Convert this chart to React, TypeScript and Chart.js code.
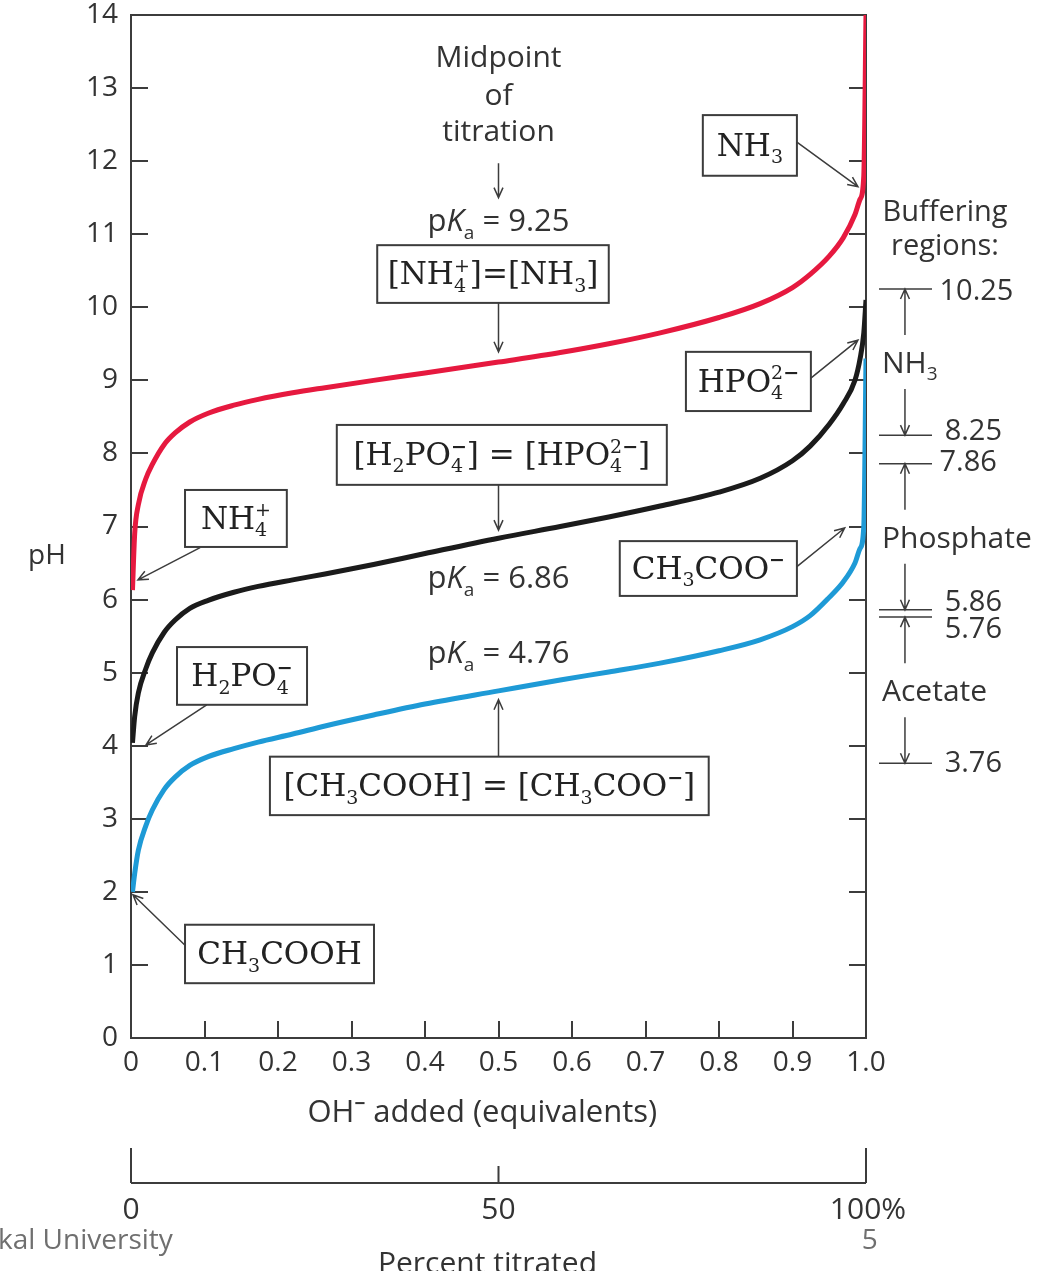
import React, { useEffect, useRef } from 'react';
import { Chart, registerables } from 'chart.js';

Chart.register(...registerables);

// ---------- data ----------
const EQUIV = [0.002, 0.005, 0.01, 0.02, 0.029, 0.045, 0.06, 0.08, 0.105, 0.14, 0.173, 0.22, 0.264, 0.33, 0.4, 0.5, 0.584, 0.65, 0.72, 0.8, 0.856, 0.9, 0.924, 0.95, 0.969, 0.985, 0.992, 0.997, 1.0];
const AMMONIUM_PH = [6.13, 6.9, 7.3, 7.65, 7.85, 8.12, 8.28, 8.43, 8.55, 8.66, 8.74, 8.83, 8.9, 9.0, 9.1, 9.25, 9.38, 9.5, 9.65, 9.86, 10.05, 10.27, 10.45, 10.7, 10.95, 11.27, 11.48, 11.8, 14.0];
const PHOSPHATE_PH = [4.04, 4.4, 4.72, 5.05, 5.27, 5.55, 5.72, 5.88, 5.99, 6.1, 6.18, 6.27, 6.35, 6.48, 6.63, 6.84, 7.0, 7.13, 7.28, 7.47, 7.66, 7.9, 8.1, 8.4, 8.68, 9.0, 9.3, 9.65, 10.1];
const ACETATE_PH = [2.0, 2.25, 2.57, 2.9, 3.12, 3.4, 3.57, 3.73, 3.85, 3.96, 4.05, 4.16, 4.27, 4.42, 4.57, 4.75, 4.9, 5.01, 5.13, 5.3, 5.45, 5.63, 5.78, 6.03, 6.24, 6.5, 6.7, 7.0, 9.3];

const X_TICK_LABELS = ['0', '0.1', '0.2', '0.3', '0.4', '0.5', '0.6', '0.7', '0.8', '0.9', '1.0'];
const Y_TICK_LABELS = ['0', '1', '2', '3', '4', '5', '6', '7', '8', '9', '10', '11', '12', '13', '14'];
const PERCENT_TICKS = [0, 0.5, 1.0];
const PERCENT_LABELS = ['0', '50', '100%'];

const PKA_VALUES = ['9.25', '6.86', '4.76'];
const BUFFER_NAMES = ['NH3', 'Phosphate', 'Acetate'];
const BUFFER_CENTERS = [9.25, 6.86, 4.76];
const BUFFER_TOPS = [10.25, 7.86, 5.76];
const BUFFER_BOTTOMS = [8.25, 5.86, 3.76];
const BUFFER_BOUNDS = [10.25, 8.25, 7.86, 5.86, 5.76, 3.76];
const BOUND_LABELS = ['10.25', '8.25', '7.86', '5.86', '5.76', '3.76'];

// ---------- style ----------
const RED = '#e6193f';
const BLACK = '#1b1b1b';
const BLUE = '#1e9ad6';
const TEXT = '#333333';
const LINE = '#3c3c3c';
const SANS = "'Open Sans', 'Noto Sans', sans-serif";
const SERIF = "'DejaVu Serif', 'Liberation Serif', serif";

type Seg = { k: 'n' | 'it' | 'sub' | 'sup' | 'st'; t?: string; sub?: string; sup?: string };
const N = (t: string): Seg => ({ k: 'n', t });
const IT = (t: string): Seg => ({ k: 'it', t });
const SB = (t: string): Seg => ({ k: 'sub', t });
const SP = (t: string): Seg => ({ k: 'sup', t });
const ST = (sub: string, sup: string): Seg => ({ k: 'st', sub, sup });

function drawRich(ctx: CanvasRenderingContext2D, segs: Seg[], x: number, y: number, size: number, family: string, align: 'center' | 'left', color: string, boldMinus = false) {
  const small = Math.round(size * 0.62);
  const fN = `${size}px ${family}`;
  const fI = `italic ${size}px ${family}`;
  const fS = `${small}px ${family}`;
  const fSB = `bold ${small}px ${family}`;
  const supWidth = (s: string) => {
    let w = 0;
    for (const ch of s) { ctx.font = ch === '−' && boldMinus ? fSB : fS; w += ctx.measureText(ch).width; }
    return w;
  };
  const drawSup = (s: string, sx: number, sy: number) => {
    let cx2 = sx;
    for (const ch of s) {
      ctx.font = ch === '−' && boldMinus ? fSB : fS;
      ctx.fillText(ch, cx2, sy);
      cx2 += ctx.measureText(ch).width;
    }
  };
  const widths = segs.map((s) => {
    if (s.k === 'n') { ctx.font = fN; return ctx.measureText(s.t!).width; }
    if (s.k === 'it') { ctx.font = fI; return ctx.measureText(s.t!).width; }
    ctx.font = fS;
    if (s.k === 'st') { const a = ctx.measureText(s.sub!).width; return Math.max(a, supWidth(s.sup!)); }
    if (s.k === 'sup') return supWidth(s.t!);
    return ctx.measureText(s.t!).width;
  });
  const total = widths.reduce((a, b) => a + b, 0);
  let cx = align === 'center' ? x - total / 2 : x;
  const base = y + size * 0.36;
  ctx.fillStyle = color;
  ctx.textAlign = 'left';
  ctx.textBaseline = 'alphabetic';
  segs.forEach((s, i) => {
    if (s.k === 'n') { ctx.font = fN; ctx.fillText(s.t!, cx, base); }
    else if (s.k === 'it') { ctx.font = fI; ctx.fillText(s.t!, cx, base); }
    else if (s.k === 'sub') { ctx.font = fS; ctx.fillText(s.t!, cx, base + size * 0.24); }
    else if (s.k === 'sup') { drawSup(s.t!, cx, base - size * 0.4); }
    else { ctx.font = fS; ctx.fillText(s.sub!, cx, base + size * 0.24); drawSup(s.sup!, cx, base - size * 0.4); }
    cx += widths[i];
  });
  return total;
}

function arrow(ctx: CanvasRenderingContext2D, x1: number, y1: number, x2: number, y2: number) {
  const ang = Math.atan2(y2 - y1, x2 - x1);
  const h = 11;
  const spread = 0.42;
  ctx.beginPath();
  ctx.moveTo(x1, y1);
  ctx.lineTo(x2, y2);
  ctx.moveTo(x2 - h * Math.cos(ang - spread), y2 - h * Math.sin(ang - spread));
  ctx.lineTo(x2, y2);
  ctx.lineTo(x2 - h * Math.cos(ang + spread), y2 - h * Math.sin(ang + spread));
  ctx.stroke();
}

// annotation layout in data units (x = equivalents, y = pH)
type Box = { x1: number; x2: number; yT: number; yB: number; segs: Seg[]; from: [number, number]; to: [number, number] };
const BOXES: Box[] = [
  { x1: 0.778, x2: 0.906, yT: 12.63, yB: 11.8, segs: [N('NH'), SB('3')], from: [0.906, 12.26], to: [0.989, 11.65] },
  { x1: 0.335, x2: 0.65, yT: 10.85, yB: 10.06, segs: [N('[NH'), ST('4', '+'), N(']=[NH'), SB('3'), N(']')], from: [0.5, 10.06], to: [0.5, 9.39] },
  { x1: 0.755, x2: 0.925, yT: 9.39, yB: 8.58, segs: [N('HPO'), ST('4', '2−')], from: [0.925, 9.03], to: [0.989, 9.55] },
  { x1: 0.28, x2: 0.729, yT: 8.39, yB: 7.57, segs: [N('[H'), SB('2'), N('PO'), ST('4', '−'), N('] = [HPO'), ST('4', '2−'), N(']')], from: [0.5, 7.57], to: [0.5, 6.95] },
  { x1: 0.665, x2: 0.906, yT: 6.8, yB: 6.05, segs: [N('CH'), SB('3'), N('COO'), SP('−')], from: [0.906, 6.45], to: [0.971, 6.98] },
  { x1: 0.189, x2: 0.786, yT: 3.85, yB: 3.05, segs: [N('[CH'), SB('3'), N('COOH] = [CH'), SB('3'), N('COO'), SP('−'), N(']')], from: [0.5, 3.85], to: [0.5, 4.63] },
  { x1: 0.0735, x2: 0.212, yT: 7.5, yB: 6.72, segs: [N('NH'), ST('4', '+')], from: [0.094, 6.71], to: [0.0095, 6.27] },
  { x1: 0.0626, x2: 0.2395, yT: 5.35, yB: 4.56, segs: [N('H'), SB('2'), N('PO'), ST('4', '−')], from: [0.103, 4.56], to: [0.0204, 4.01] },
  { x1: 0.0735, x2: 0.3306, yT: 1.55, yB: 0.75, segs: [N('CH'), SB('3'), N('COOH')], from: [0.0735, 1.27], to: [0.0027, 1.96] },
];
const MIDPOINT_LINES = ['Midpoint', 'of', 'titration'];
const MIDPOINT_Y = [13.41, 12.89, 12.39];
const PKA_Y = [11.19, 6.31, 5.28];
const BOUND_LABEL_DY = [3, -3, -1, -7, 13, 0];

const framePlugin = {
  id: 'frame',
  beforeDatasetsDraw(chart: any) {
    const { ctx, chartArea: a, scales } = chart;
    const xs = scales.x, ys = scales.y;
    ctx.save();
    ctx.strokeStyle = LINE;
    ctx.lineWidth = 2;
    ctx.strokeRect(a.left, a.top, a.right - a.left, a.bottom - a.top);
    ctx.beginPath();
    const tl = 17;
    ys.ticks.forEach((t: any) => {
      const y = Math.round(ys.getPixelForValue(t.value));
      ctx.moveTo(a.left, y); ctx.lineTo(a.left + tl, y);
      ctx.moveTo(a.right, y); ctx.lineTo(a.right - tl, y);
    });
    xs.ticks.forEach((t: any) => {
      const x = Math.round(xs.getPixelForValue(t.value));
      ctx.moveTo(x, a.bottom); ctx.lineTo(x, a.bottom - tl);
    });
    ctx.stroke();
    ctx.restore();
  },
};

const annotationPlugin = {
  id: 'annotations',
  afterDraw(chart: any) {
    const { ctx, chartArea: a, scales } = chart;
    const xs = scales.x, ys = scales.y;
    const px = (v: number) => xs.getPixelForValue(v);
    const py = (v: number) => ys.getPixelForValue(v);
    ctx.save();
    ctx.strokeStyle = LINE;
    ctx.lineWidth = 1.5;

    // midpoint text
    ctx.fillStyle = TEXT;
    ctx.font = `30px ${SANS}`;
    ctx.textAlign = 'center';
    ctx.textBaseline = 'middle';
    MIDPOINT_LINES.forEach((t, i) => ctx.fillText(t, px(0.5), py(MIDPOINT_Y[i])));
    arrow(ctx, px(0.5), py(11.97), px(0.5), py(11.5));

    // pKa labels
    PKA_VALUES.forEach((v, i) => {
      drawRich(ctx, [N('p'), IT('K'), SB('a'), N(' = ' + v)], px(0.5), py(PKA_Y[i]), 31, SANS, 'center', TEXT);
    });

    // boxes
    BOXES.forEach((b) => {
      const l = px(b.x1), r = px(b.x2), t = py(b.yT), bt = py(b.yB);
      ctx.fillStyle = '#ffffff';
      ctx.fillRect(l, t, r - l, bt - t);
      ctx.strokeStyle = LINE;
      ctx.lineWidth = 2;
      ctx.strokeRect(l, t, r - l, bt - t);
      drawRich(ctx, b.segs, (l + r) / 2, (t + bt) / 2 - 1, 31, SERIF, 'center', '#222', true);
      ctx.lineWidth = 1.5;
      arrow(ctx, px(b.from[0]), py(b.from[1]), px(b.to[0]), py(b.to[1]));
    });

    // buffering regions (right side)
    ctx.fillStyle = TEXT;
    ctx.font = `29px ${SANS}`;
    ctx.textAlign = 'center';
    ctx.textBaseline = 'middle';
    ctx.fillText('Buffering', px(1.1075), py(11.3));
    ctx.fillText('regions:', px(1.1075), py(10.83));
    const lx1 = px(1.0177), lx2 = px(1.0898), ax = px(1.053);
    ctx.lineWidth = 1.5;
    ctx.beginPath();
    BUFFER_BOUNDS.forEach((v) => { ctx.moveTo(lx1, py(v)); ctx.lineTo(lx2, py(v)); });
    ctx.stroke();
    BUFFER_BOUNDS.forEach((v, i) => {
      ctx.fillStyle = TEXT;
      ctx.font = `29px ${SANS}`;
      ctx.textAlign = 'left';
      ctx.textBaseline = 'middle';
      ctx.fillText(BOUND_LABELS[i], px(i === 0 || i === 2 ? 1.1 : 1.107), py(v) + BOUND_LABEL_DY[i]);
    });
    BUFFER_NAMES.forEach((name, i) => {
      const cy = py(BUFFER_CENTERS[i]);
      const segs = name === 'NH3' ? [N('NH'), SB('3')] : [N(name)];
      drawRich(ctx, segs, px(1.0218), cy, 30, SANS, 'left', TEXT);
      arrow(ctx, ax, cy - 27, ax, py(BUFFER_TOPS[i]));
      arrow(ctx, ax, cy + 27, ax, py(BUFFER_BOTTOMS[i]));
    });

    // pH label and x title
    ctx.fillStyle = TEXT;
    ctx.font = `28px ${SANS}`;
    ctx.textAlign = 'center';
    ctx.textBaseline = 'middle';
    ctx.fillText('pH', 47, py(6.6));
    drawRich(ctx, [N('OH'), SP('−'), N(' added (equivalents)')], px(0.478), a.bottom + 73, 31, SANS, 'center', TEXT, true);

    // percent titrated axis
    const base = a.bottom + 145;
    ctx.strokeStyle = LINE;
    ctx.lineWidth = 2;
    ctx.beginPath();
    ctx.moveTo(px(0), base); ctx.lineTo(px(1), base);
    PERCENT_TICKS.forEach((v, i) => {
      const h = i === 1 ? 17 : 35;
      ctx.moveTo(px(v), base); ctx.lineTo(px(v), base - h);
    });
    ctx.stroke();
    ctx.fillStyle = TEXT;
    ctx.font = `30px ${SANS}`;
    ctx.textAlign = 'center';
    ctx.textBaseline = 'middle';
    PERCENT_LABELS.forEach((t, i) => ctx.fillText(t, px(PERCENT_TICKS[i]) + (i === 2 ? 2 : 0), base + 27));
    ctx.fillText('Percent titrated', px(0.485), base + 81);

    // footer
    ctx.fillStyle = '#6f6f6f';
    ctx.font = `28px ${SANS}`;
    ctx.textAlign = 'left';
    ctx.fillText('kal University', -2, base + 58);
    ctx.textAlign = 'center';
    ctx.fillText('5', px(1.005), base + 58);
    ctx.restore();
  },
};

export default function App() {
  const ref = useRef<HTMLCanvasElement | null>(null);
  useEffect(() => {
    document.body.style.margin = '0';
    const canvas = ref.current!;
    const mk = (ys: number[]) => EQUIV.map((x, i) => ({ x, y: ys[i] }));
    const ds = (label: string, ys: number[], color: string) => ({
      label,
      data: mk(ys),
      borderColor: color,
      backgroundColor: color,
      borderWidth: 5,
      pointRadius: 0,
      fill: false,
      cubicInterpolationMode: 'monotone' as const,
    });
    const tickFont = { family: SANS, size: 28, lineHeight: 1 };
    const chart = new Chart(canvas, {
      type: 'line',
      data: {
        datasets: [
          ds('NH4+', AMMONIUM_PH, RED),
          ds('H2PO4-', PHOSPHATE_PH, BLACK),
          ds('CH3COOH', ACETATE_PH, BLUE),
        ],
      },
      options: {
        animation: false,
        responsive: false,
        devicePixelRatio: 1,
        layout: { padding: { left: 0, right: 174, top: 15, bottom: 0 } },
        plugins: { legend: { display: false }, tooltip: { enabled: false } },
        scales: {
          x: {
            type: 'linear',
            min: 0,
            max: 1,
            afterFit: (s: any) => { s.height = 233; s.paddingLeft = 0; s.paddingRight = 0; },
            grid: { display: false, drawTicks: false },
            border: { display: false },
            ticks: {
              stepSize: 0.1,
              autoSkip: false,
              maxRotation: 0,
              padding: 11,
              color: TEXT,
              font: tickFont,
              callback: (_v: any, i: number) => X_TICK_LABELS[i],
            },
          },
          y: {
            type: 'linear',
            min: 0,
            max: 14,
            afterFit: (s: any) => { s.width = 131; s.paddingTop = 0; s.paddingBottom = 0; },
            grid: { display: false, drawTicks: false },
            border: { display: false },
            ticks: {
              stepSize: 1,
              autoSkip: false,
              padding: 13,
              color: TEXT,
              font: tickFont,
              callback: (_v: any, i: number) => Y_TICK_LABELS[i],
            },
          },
        },
      },
      plugins: [framePlugin, annotationPlugin],
    });
    return () => chart.destroy();
  }, []);
  return (
    <div style={{ position: 'absolute', left: 0, top: 0, width: 1040, height: 1271, background: '#fff' }}>
      <canvas ref={ref} width={1040} height={1271} style={{ display: 'block' }} />
    </div>
  );
}
